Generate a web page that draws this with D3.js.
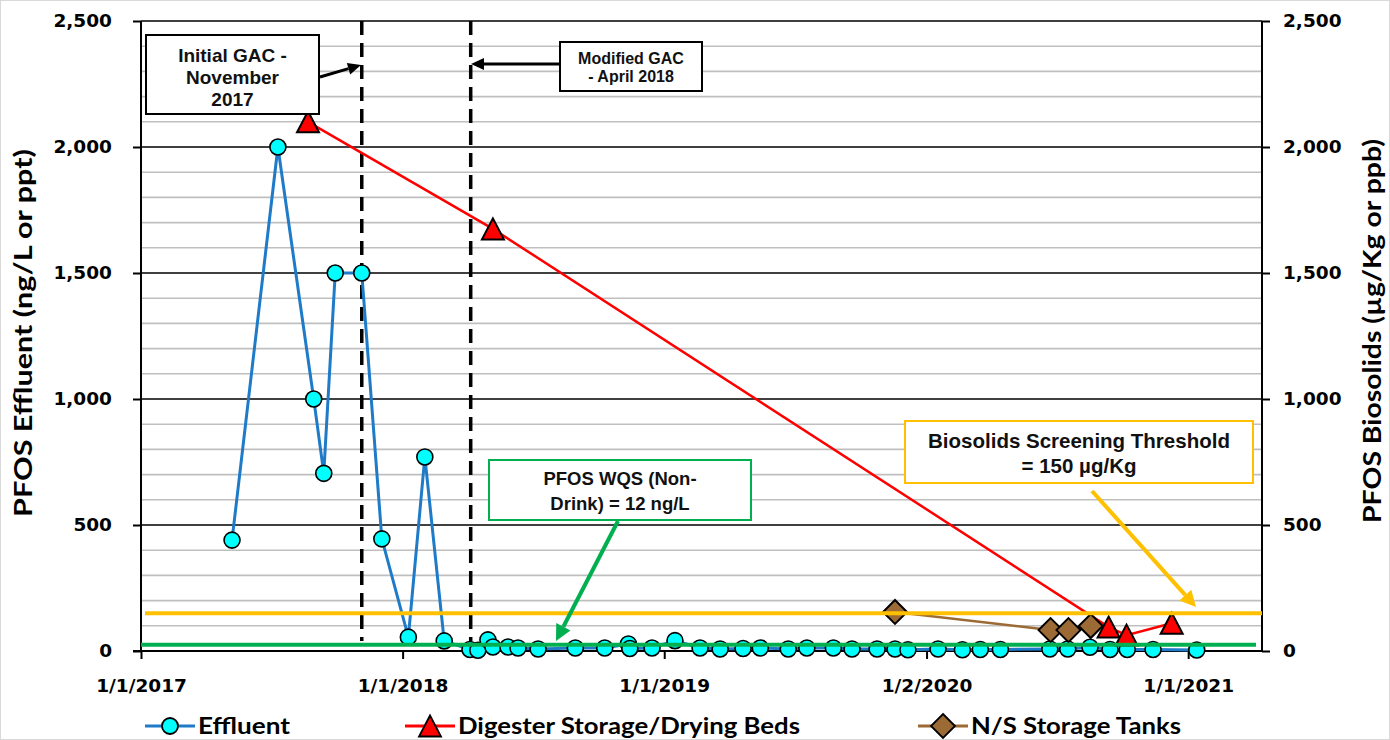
<!DOCTYPE html>
<html><head><meta charset="utf-8">
<script src="https://cdn.jsdelivr.net/npm/d3@7"></script>
<style>body{margin:0;background:#fff}</style>
</head><body><svg id="c" width="1390" height="740"></svg>
<script>
// ---------- DATA ----------
const effluentDates = ["2017-05-08","2017-07-11","2017-08-30","2017-09-13","2017-09-29","2017-11-05","2017-12-03","2018-01-09","2018-02-01","2018-02-28",
  "2018-04-05","2018-04-16","2018-04-30","2018-05-07","2018-05-28","2018-06-11","2018-07-09","2018-08-30","2018-10-10","2018-11-12","2018-11-14","2018-12-15",
  "2019-01-16","2019-02-20","2019-03-20","2019-04-21","2019-05-15","2019-06-23","2019-07-19","2019-08-25","2019-09-20","2019-10-25","2019-11-19","2019-12-07",
  "2020-01-18","2020-02-21","2020-03-17","2020-04-14","2020-06-22","2020-07-17","2020-08-17","2020-09-14","2020-10-08","2020-11-13","2021-01-13"];
const effluentValues = [440,2000,1000,705,1500,1500,445,55,770,40,
  6,3,44,16,16,12,8,12,12,28,10,12,
  41,12,8,10,12,8,12,12,8,8,8,5,
  8,5,6,6,8,8,15,6,6,6,4];
const digesterDates = ["2017-08-22","2018-05-07","2020-09-12","2020-10-07","2020-12-09"];
const digesterValues = [2100,1675,95,63,110];
const storageDates = ["2019-11-19","2020-06-23","2020-07-18","2020-08-18"];
const storageValues = [155,83,83,99];
const yTicks = [0,500,1000,1500,2000,2500];
const xTickDates = ["2017-01-01","2018-01-01","2019-01-01","2020-01-02","2021-01-01"];
const xTickLabels = ["1/1/2017","1/1/2018","1/1/2019","1/2/2020","1/1/2021"];
const eventDates = ["2017-11-05","2018-04-06"];
const wqsLevel = 25;
const biosolidsThreshold = 150;
const seriesNames = ["Effluent","Digester Storage/Drying Beds","N/S Storage Tanks"];

// ---------- SETUP ----------
const parse = d3.timeParse("%Y-%m-%d");
const svg = d3.select("#c");
const L = 141, R = 1262, T = 21, B = 651;
const x = d3.scaleTime().domain([parse("2017-01-01"), parse("2021-04-14")]).range([L, R]);
const y = d3.scaleLinear().domain([0, 2500]).range([B, T]);
const y2 = d3.scaleLinear().domain([0, 2500]).range([B, T]);

svg.append("rect").attr("x",0.5).attr("y",0.5).attr("width",1389).attr("height",739)
  .attr("fill","#fff").attr("stroke","#D9D9D9");

// gridlines
const minor = d3.range(100, 2500, 100).filter(v => v % 500 !== 0);
svg.append("g").selectAll("line").data(minor).join("line")
  .attr("x1", L).attr("x2", R).attr("y1", d => y(d)).attr("y2", d => y(d))
  .attr("stroke", "#BFBFBF").attr("stroke-width", 1.6);
svg.append("g").selectAll("line").data(yTicks.filter(v => v > 0)).join("line")
  .attr("x1", L).attr("x2", R).attr("y1", d => y(d)).attr("y2", d => y(d))
  .attr("stroke", "#000").attr("stroke-width", 1.6);

// axes
const tickFont = "'DejaVu Sans', Verdana, sans-serif";
const gl = svg.append("g").attr("transform", `translate(${L},0)`)
  .call(d3.axisLeft(y).tickValues(yTicks).tickSize(8).tickPadding(21).tickFormat(d3.format(",")));
const gr = svg.append("g").attr("transform", `translate(${R},0)`)
  .call(d3.axisRight(y2).tickValues(yTicks).tickSize(8).tickPadding(13).tickFormat(d3.format(",")));
const gb = svg.append("g").attr("transform", `translate(0,${B})`)
  .call(d3.axisBottom(x).tickValues(xTickDates.map(parse)).tickSize(8).tickPadding(20)
    .tickFormat((d, i) => xTickLabels[i]));
[gl, gr, gb].forEach(g => {
  g.selectAll("path.domain").attr("stroke", "#000").attr("stroke-width", 2);
  g.selectAll(".tick line").attr("stroke", "#000").attr("stroke-width", 2);
  g.selectAll("text").attr("font-family", tickFont).attr("font-weight", "bold")
    .attr("font-size", 18.5).attr("fill", "#000");
});
gl.select("path.domain").attr("d", `M-0,${T}V${B}`);
gr.select("path.domain").attr("d", `M0,${T}V${B}`);
gb.select("path.domain").attr("d", `M${L - 8},0H${R}`);

// axis titles
const titleFont = "Lato, 'Open Sans', sans-serif";
svg.append("text").attr("transform", `translate(32,333) rotate(-90)`)
  .attr("text-anchor", "middle").attr("font-family", titleFont).attr("font-weight", "bold")
  .attr("font-size", 25).attr("textLength", 368).attr("lengthAdjust", "spacingAndGlyphs")
  .text("PFOS Effluent (ng/L or ppt)");
svg.append("text").attr("transform", `translate(1381,331) rotate(-90)`)
  .attr("text-anchor", "middle").attr("font-family", titleFont).attr("font-weight", "bold")
  .attr("font-size", 25).attr("textLength", 384).attr("lengthAdjust", "spacingAndGlyphs")
  .text("PFOS Biosolids (µg/Kg or ppb)");

// event dashed lines
svg.append("g").selectAll("line").data(eventDates).join("line")
  .attr("x1", d => x(parse(d))).attr("x2", d => x(parse(d)))
  .attr("y1", T).attr("y2", B - 10)
  .attr("stroke", "#000").attr("stroke-width", 3.5).attr("stroke-dasharray", "14,8");

// markers
const circ = r => `M${-r},0a${r},${r} 0 1,0 ${2*r},0a${r},${r} 0 1,0 ${-2*r},0Z`;
const tri = "M0,-10.5L11,10.5L-11,10.5Z";
const dia = "M0,-12L12,0L0,12L-12,0Z";

const eff = effluentDates.map((d, i) => ({ d: parse(d), v: effluentValues[i] }));
const dig = digesterDates.map((d, i) => ({ d: parse(d), v: digesterValues[i] }));
const sto = storageDates.map((d, i) => ({ d: parse(d), v: storageValues[i] }));

const line1 = d3.line().x(p => x(p.d)).y(p => y(p.v));
const line2 = d3.line().x(p => x(p.d)).y(p => y2(p.v));

svg.append("path").attr("d", line1(eff)).attr("fill", "none").attr("stroke", "#1F7BC8").attr("stroke-width", 3);
svg.append("g").selectAll("path").data(eff).join("path")
  .attr("transform", p => `translate(${x(p.d)},${y(p.v)})`).attr("d", circ(8))
  .attr("fill", "#00FFFF").attr("stroke", "#000").attr("stroke-width", 1.6);

svg.append("path").attr("d", line2(dig)).attr("fill", "none").attr("stroke", "#FF0000").attr("stroke-width", 2.5);
svg.append("g").selectAll("path").data(dig).join("path")
  .attr("transform", p => `translate(${x(p.d)},${y2(p.v)})`).attr("d", tri)
  .attr("fill", "#FF0000").attr("stroke", "#000").attr("stroke-width", 2);

svg.append("path").attr("d", line2(sto)).attr("fill", "none").attr("stroke", "#9C6B35").attr("stroke-width", 2.5);
svg.append("g").selectAll("path").data(sto).join("path")
  .attr("transform", p => `translate(${x(p.d)},${y2(p.v)})`).attr("d", dia)
  .attr("fill", "#9C6B35").attr("stroke", "#000").attr("stroke-width", 2);

// threshold lines
svg.append("line").attr("x1", L + 4).attr("x2", R).attr("y1", y2(biosolidsThreshold)).attr("y2", y2(biosolidsThreshold))
  .attr("stroke", "#FFC000").attr("stroke-width", 4);
svg.append("line").attr("x1", L).attr("x2", R - 6).attr("y1", y(wqsLevel)).attr("y2", y(wqsLevel))
  .attr("stroke", "#00B050").attr("stroke-width", 4);

// annotation boxes & arrows
const annFont = "'Liberation Sans', Arial, sans-serif";
function arrow(x1, y1, x2, y2, color, w, hl, hw) {
  const a = Math.atan2(y2 - y1, x2 - x1);
  const bx = x2 - hl * Math.cos(a), by = y2 - hl * Math.sin(a);
  svg.append("line").attr("x1", x1).attr("y1", y1).attr("x2", bx).attr("y2", by)
    .attr("stroke", color).attr("stroke-width", w);
  const px = -Math.sin(a) * hw, py = Math.cos(a) * hw;
  svg.append("path").attr("d", `M${x2},${y2}L${bx + px},${by + py}L${bx - px},${by - py}Z`).attr("fill", color);
}
function box(x0, y0, w, h, stroke, lines, fs, ys) {
  svg.append("rect").attr("x", x0).attr("y", y0).attr("width", w).attr("height", h)
    .attr("fill", "#fff").attr("stroke", stroke).attr("stroke-width", 2);
  lines.forEach((t, i) => svg.append("text").attr("x", x0 + w / 2).attr("y", ys[i])
    .attr("text-anchor", "middle").attr("font-family", annFont).attr("font-weight", "bold")
    .attr("font-size", fs).attr("fill", "#111").text(t));
}
box(146, 35, 173, 79, "#000", ["Initial GAC -", "November", "2017"], 19, [62, 84, 106]);
arrow(320, 77, 361, 65, "#000", 3, 13, 6);
box(560, 42, 142, 49, "#000", ["Modified GAC", "- April 2018"], 16, [64, 82]);
arrow(560, 64, 471, 64, "#000", 3, 13, 6);
box(489, 460, 262, 60, "#00B050", ["PFOS WQS (Non-", "Drink) = 12 ng/L"], 18.5, [485, 510]);
arrow(618, 521, 556, 641, "#00B050", 4, 16, 8);
box(905, 421, 348, 62, "#FFC000", ["Biosolids Screening Threshold", "= 150 µg/Kg"], 20.5, [448, 473]);
arrow(1092, 491, 1196, 607, "#FFC000", 4, 16, 8);

// legend
const legFont = "Lato, 'Open Sans', sans-serif";
const legY = 726;
const legItems = [
  { name: seriesNames[0], x0: 145, color: "#1F7BC8", shape: circ(8), fill: "#00FFFF", tw: 92 },
  { name: seriesNames[1], x0: 405, color: "#FF0000", shape: tri, fill: "#FF0000", tw: 342 },
  { name: seriesNames[2], x0: 918, color: "#9C6B35", shape: dia, fill: "#9C6B35", tw: 210 }
];
legItems.forEach(it => {
  svg.append("line").attr("x1", it.x0).attr("x2", it.x0 + 50).attr("y1", legY).attr("y2", legY)
    .attr("stroke", it.color).attr("stroke-width", 3);
  svg.append("path").attr("transform", `translate(${it.x0 + 25},${legY})`).attr("d", it.shape)
    .attr("fill", it.fill).attr("stroke", "#000").attr("stroke-width", 1.8);
  svg.append("text").attr("x", it.x0 + 53).attr("y", legY + 8)
    .attr("font-family", legFont).attr("font-weight", "bold").attr("font-size", 23)
    .attr("textLength", it.tw).attr("lengthAdjust", "spacingAndGlyphs").text(it.name);
});
</script></body></html>
